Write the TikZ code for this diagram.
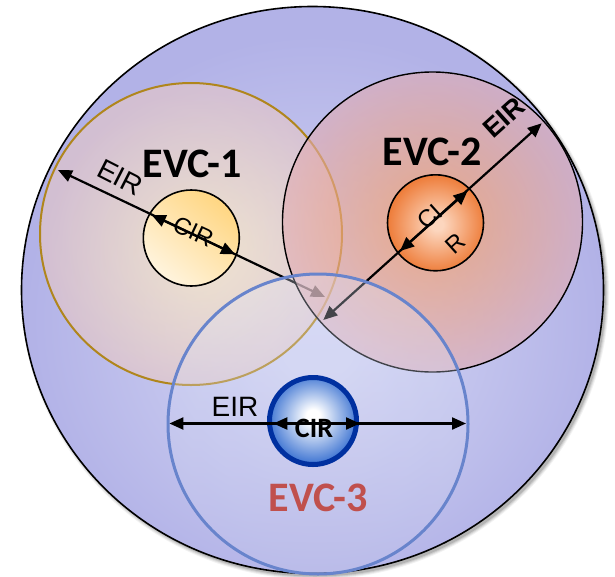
\documentclass[tikz,border=0pt]{standalone}
\usepackage{fontspec}
\setmainfont{Liberation Sans}
\newfontfamily\calibfont{Carlito}
\usetikzlibrary{arrows.meta}

% palette
\definecolor{bgedge}{RGB}{178,178,231}
\definecolor{bgmid}{RGB}{210,212,243}
\definecolor{evconein}{RGB}{255,234,192}
\definecolor{evconeout}{RGB}{228,198,200}
\definecolor{evconeline}{RGB}{176,134,28}
\definecolor{evctwoin}{RGB}{246,158,104}
\definecolor{evctwoout}{RGB}{224,172,180}
\definecolor{evcthreetop}{RGB}{226,232,250}
\definecolor{evcthreebot}{RGB}{198,200,236}
\definecolor{evcthreeline}{RGB}{104,132,204}
\definecolor{cironeA}{RGB}{255,244,222}
\definecolor{cironeB}{RGB}{255,214,130}
\definecolor{cirtwoin}{RGB}{252,214,190}
\definecolor{cirtwoout}{RGB}{238,126,60}
\definecolor{cirthreeout}{RGB}{70,122,212}
\definecolor{cirthreeline}{RGB}{0,48,160}
\definecolor{evcred}{RGB}{192,80,77}

% radial shadings (circle edge sits at 25bp)
\pgfdeclareradialshading{bgshade}{\pgfpoint{0.5bp}{-5bp}}{color(0bp)=(bgmid); color(3bp)=(bgmid); color(25bp)=(bgedge); color(50bp)=(bgedge)}
\pgfdeclareradialshading{evconeshade}{\pgfpoint{2bp}{-3bp}}{color(0bp)=(evconein); color(5bp)=(evconein); color(25bp)=(evconeout); color(50bp)=(evconeout)}
\pgfdeclareradialshading{evctwoshade}{\pgfpoint{0bp}{0bp}}{color(0bp)=(evctwoin); color(7bp)=(evctwoin); color(25bp)=(evctwoout); color(50bp)=(evctwoout)}
\pgfdeclareradialshading{cirtwoshade}{\pgfpoint{1bp}{-1bp}}{color(0bp)=(cirtwoin); color(3bp)=(cirtwoin); color(25bp)=(cirtwoout); color(50bp)=(cirtwoout)}
\pgfdeclareradialshading{cirthreeshade}{\pgfpoint{0bp}{3bp}}{color(0bp)=(white); color(4bp)=(white); color(25bp)=(cirthreeout); color(50bp)=(cirthreeout)}

\tikzset{
  dim/.style={line width=2.2pt,
    {Triangle[length=14pt,width=12pt]}-{Triangle[length=14pt,width=12pt]}},
  lbl/.style={inner sep=0pt, text=black},
  evcname/.style={inner sep=0pt, font=\calibfont\bfseries\fontsize{42}{42}\selectfont},
  eirtxt/.style={inner sep=0pt, font=\fontsize{28}{28}\selectfont},
  cirtxt/.style={inner sep=0pt, font=\fontsize{24}{24}\selectfont},
}

\begin{document}
\begin{tikzpicture}[x=1pt,y=1pt]
\useasboundingbox (0,0) rectangle (615,-576);

% soft shadow under the service area
\foreach \k/\o in {3/0.05,2/0.07,1/0.09,0/0.12}
  \fill[black, opacity=\o] (315,-293) ellipse ({291+\k} and {283.5+\k});

% service area
\shade[shading=bgshade] (312.5,-290) ellipse (291 and 283.5);
\draw[line width=1.6pt] (312.5,-290) ellipse (291 and 283.5);

% ---- EVC-1 ----
\shade[shading=evconeshade, fill opacity=0.66] (191,-234) circle (151);
\draw[evconeline, line width=2pt] (191,-234) circle (151);
\shade[top color=cironeB, bottom color=cironeA, shading angle=-40] (191.3,-238) circle (48);
\draw[line width=1.6pt] (191.3,-238) circle (48);
\coordinate (a1) at (58,-170);
\coordinate (b1) at (325,-297);
\coordinate (c1) at (151.7,-215);
\coordinate (d1) at (235,-254.2);
\draw[dim] (a1) -- (b1);
\draw[dim] (c1) -- (d1);
\node[eirtxt, rotate=-27] (eir1) at (120.5,-177.5) {EIR};
\node[cirtxt, rotate=-25] (cir1) at (193.3,-231.7) {CIR};
\node[evcname] (evc1) at (192,-164) {EVC-1};

% ---- EVC-2 ----
\shade[shading=evctwoshade, fill opacity=0.62] (432.5,-222) circle (150);
\draw[line width=1.4pt] (432.5,-222) circle (150);
\shade[shading=cirtwoshade] (435.5,-222.8) circle (48);
\draw[line width=1.6pt] (435.5,-222.8) circle (48);
\coordinate (a2) at (541.7,-123.3);
\coordinate (b2) at (323.3,-320);
\coordinate (c2) at (467.5,-191);
\coordinate (d2) at (400,-251);
\draw[dim] (a2) -- (b2);
\draw[dim] (c2) -- (d2);
\node[eirtxt, font=\bfseries\fontsize{27}{27}\selectfont, rotate=42] (eir2) at (504,-118) {EIR};
\node[cirtxt, rotate=42] (cir2a) at (430,-216.7) {CI};
\node[cirtxt, rotate=42] (cir2b) at (455,-243.3) {R};
\node[evcname] (evc2) at (432,-152) {EVC-2};

% ---- EVC-3 ----
\shade[top color=evcthreetop, bottom color=evcthreebot, fill opacity=0.3] (318,-424) circle (150);
\draw[evcthreeline, line width=3pt] (318,-424) circle (150);
\shade[shading=cirthreeshade] (313,-421) circle (43.5);
\draw[cirthreeline, line width=5pt] (313,-421) circle (43.5);
\coordinate (a3) at (169.4,-423.5);
\coordinate (b3) at (466,-423.5);
\coordinate (c3) at (273.3,-423.5);
\coordinate (d3) at (360,-423.5);
\draw[dim] (a3) -- (b3);
\draw[dim] (c3) -- (d3);
\node[eirtxt] (eir3) at (235,-407) {EIR};
\node[lbl, font=\calibfont\bfseries\fontsize{28}{28}\selectfont] (cir3) at (314,-428.3) {CIR};
\node[evcname, text=evcred] (evc3) at (318,-497.5) {EVC-3};
\end{tikzpicture}
\end{document}
